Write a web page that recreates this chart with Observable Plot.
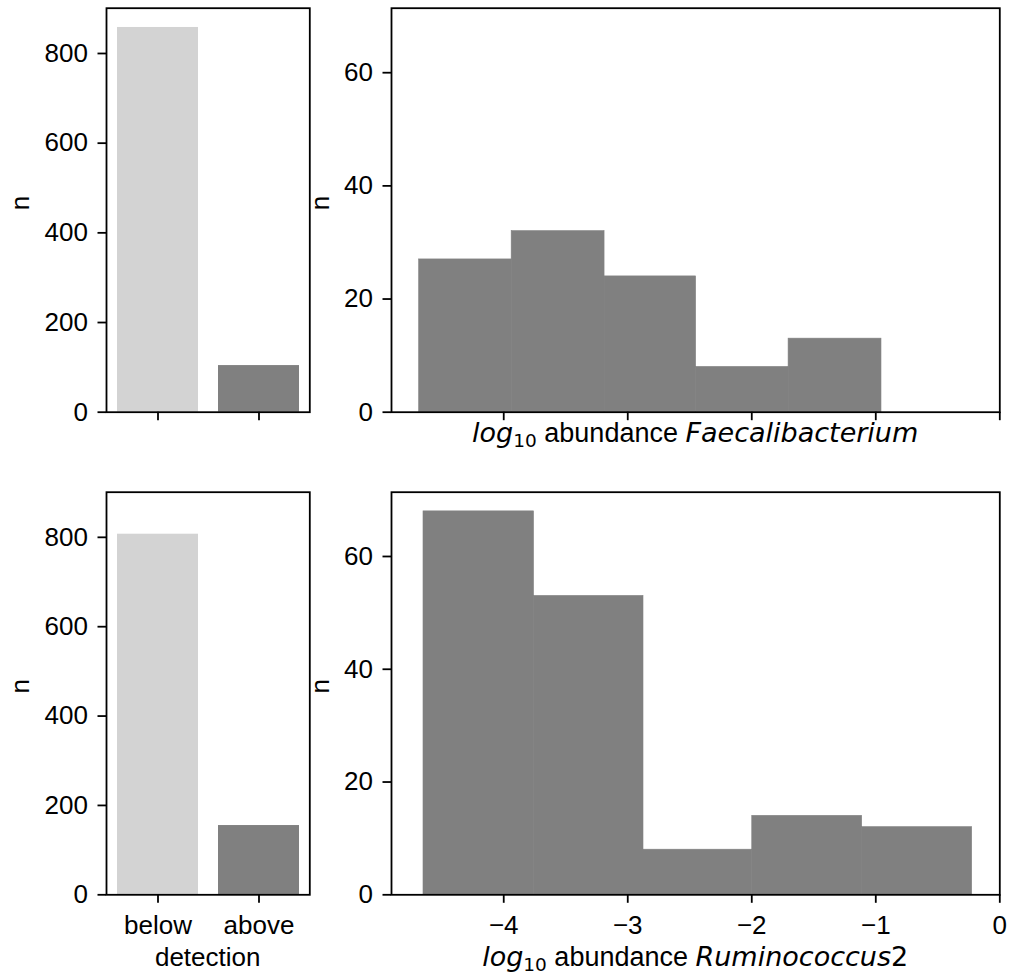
<!DOCTYPE html>
<html><head><meta charset="utf-8">
<script src="https://cdn.jsdelivr.net/npm/d3@7"></script>
<script src="https://cdn.jsdelivr.net/npm/@observablehq/plot@0.6"></script>
<style>
body{margin:0;background:#fff;}
#fig{position:relative;width:1010px;height:977px;background:#fff;font-family:"Liberation Sans",Arial,sans-serif;}
#fig svg{position:absolute;overflow:visible;}
</style></head><body><div id="fig"></div>
<script>
// ---- data ----
const detectionCategories = ["below", "above"];
const faecDetection = [858, 104];
const rumDetection = [807, 155];
const faecBinEdges = [-4.682, -3.936, -3.187, -2.449, -1.703, -0.954];
const faecCounts = [27, 32, 24, 8, 13];
const rumBinEdges = [-4.647, -3.756, -2.873, -1.996, -1.110, -0.223];
const rumCounts = [68, 53, 8, 14, 12];
const countTicks = [0, 200, 400, 600, 800];
const histCountTicks = [0, 20, 40, 60];
const abundanceTicks = [-4, -3, -2, -1, 0];
const faecLabel = ["Faecalibacterium", ""];
const rumLabel = ["Ruminococcus", "2"];

const FONT = "'Liberation Sans', Arial, sans-serif";
const MATH = "'DejaVu Sans', sans-serif";
const FS = 26;
const LFS = 27;
const fig = document.getElementById("fig");
const intFmt = d3.format("d");

function place(svg, left, top) {
  svg.style.left = left + "px";
  svg.style.top = top + "px";
  fig.appendChild(svg);
  return svg;
}

const common = {style: {fontFamily: FONT, color: "black", background: "transparent", overflow: "visible"}};

function detectionPlot(values, height, mt, mb, showLabels) {
  const data = detectionCategories.map((c, i) => ({cat: c, n: values[i]}));
  return Plot.plot({
    ...common,
    width: 330, height, marginLeft: 106, marginRight: 20.7, marginTop: mt, marginBottom: mb,
    x: {domain: detectionCategories, paddingInner: 0.2, paddingOuter: 0.1},
    y: {domain: [0, 901]},
    color: {domain: detectionCategories, range: ["#d3d3d3", "#808080"]},
    marks: [
      Plot.barY(data, {x: "cat", y: "n", fill: "cat"}),
      Plot.axisY({ticks: countTicks, tickSize: 8.5, tickPadding: 10, fontSize: FS, label: null, strokeWidth: 1.8, tickFormat: intFmt}),
      Plot.axisX({tickSize: 8.5, tickPadding: 12, fontSize: FS, label: null, strokeWidth: 1.8,
        tickFormat: showLabels ? (d => d) : (() => "")}),
      Plot.frame({stroke: "black", strokeWidth: 1.8}),
      Plot.text(["n"], {text: d => d, frameAnchor: "left", dx: -86.3, rotate: -90, fontSize: FS})
    ]
  });
}

function histPlot(edges, counts, height, mt, mb, showLabels) {
  const data = counts.map((c, i) => ({x1: edges[i], x2: edges[i + 1], n: c}));
  return Plot.plot({
    ...common,
    width: 680, height, marginLeft: 61, marginRight: 10.7, marginTop: mt, marginBottom: mb,
    x: {domain: [-4.905, 0]},
    y: {domain: [0, 71.4]},
    marks: [
      Plot.rectY(data, {x1: "x1", x2: "x2", y: "n", fill: "#808080", stroke: "#808080", strokeWidth: 0.6}),
      Plot.axisY({ticks: histCountTicks, tickSize: 8.5, tickPadding: 10, fontSize: FS, label: null, strokeWidth: 1.8, tickFormat: intFmt}),
      Plot.axisX({ticks: abundanceTicks, tickSize: 8.5, tickPadding: 12, fontSize: FS, label: null, strokeWidth: 1.8,
        tickFormat: showLabels ? intFmt : (() => "")}),
      Plot.frame({stroke: "black", strokeWidth: 1.8}),
      Plot.text(["n"], {text: d => d, frameAnchor: "left", dx: -71, rotate: -90, fontSize: FS})
    ]
  });
}

function mathLabel(svg, cx, y, genus) {
  const t = d3.select(svg).append("text")
    .attr("x", cx).attr("y", y).attr("text-anchor", "middle")
    .attr("fill", "black").attr("font-size", LFS).style("white-space", "pre");
  t.append("tspan").attr("font-family", MATH).attr("font-style", "italic").text("log");
  t.append("tspan").attr("font-family", MATH).attr("font-size", 18.5).attr("dy", 5).text("10");
  t.append("tspan").attr("font-family", FONT).attr("dy", -5).text(" abundance ");
  t.append("tspan").attr("font-family", MATH).attr("font-style", "italic").text(genus[0]);
  if (genus[1]) t.append("tspan").attr("font-family", MATH).text(genus[1]);
}

// top row
place(detectionPlot(faecDetection, 480, 7.7, 68.3, false), 0, 0);
const tr = place(histPlot(faecBinEdges, faecCounts, 480, 7.7, 68.3, false), 330, 0);
mathLabel(tr, 695.2 - 330, 442, faecLabel);

// bottom row
const bl = place(detectionPlot(rumDetection, 497, 11.7, 82.7, true), 0, 480);
d3.select(bl).append("text").attr("x", 207.7).attr("y", 966 - 480).attr("text-anchor", "middle")
  .attr("fill", "black").attr("font-size", FS).attr("font-family", FONT).text("detection");
const br = place(histPlot(rumBinEdges, rumCounts, 497, 11.7, 82.7, true), 330, 480);
mathLabel(br, 695.2 - 330, 966 - 480, rumLabel);
</script></body></html>
